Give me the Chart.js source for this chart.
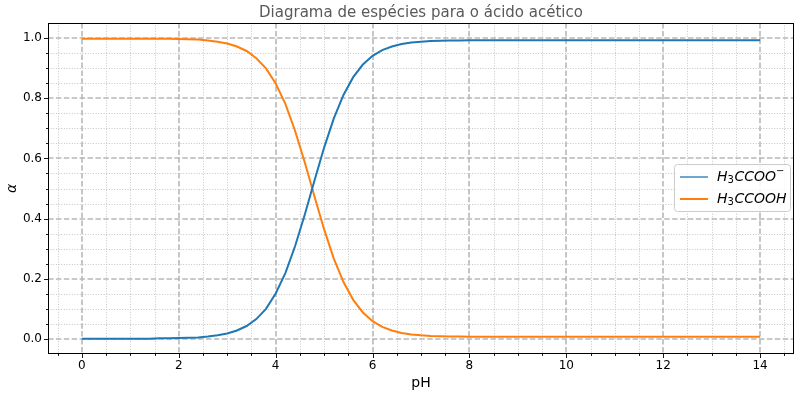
<!DOCTYPE html>
<html>
<head>
<meta charset="utf-8">
<script src="https://cdn.jsdelivr.net/npm/chart.js@4"></script>
<style>
  html, body { margin: 0; padding: 0; background: #fff; }
  #wrap { width: 800px; height: 396px; }
</style>
</head>
<body>
<div id="wrap"><canvas id="chart"></canvas></div>
<script>
// pH values, 0 to 14 in steps of 0.2
const ph = [];
for (let i = 0; i <= 70; i++) ph.push(+(i * 0.2).toFixed(1));

const acetate = [
    0.001, 0.001, 0.001, 0.001, 0.001, 0.001, 0.001, 0.001, 0.002, 0.002,
    0.003, 0.004, 0.005, 0.008, 0.012, 0.018, 0.028, 0.043, 0.066, 0.100,
    0.151, 0.219, 0.308, 0.413, 0.526, 0.636, 0.733, 0.811, 0.870, 0.912,
    0.941, 0.960, 0.972, 0.980, 0.985, 0.988, 0.990, 0.991, 0.992, 0.992,
    0.993, 0.993, 0.993, 0.993, 0.993, 0.993, 0.993, 0.993, 0.993, 0.993,
    0.993, 0.993, 0.993, 0.993, 0.993, 0.993, 0.993, 0.993, 0.993, 0.993,
    0.993, 0.993, 0.993, 0.993, 0.993, 0.993, 0.993, 0.993, 0.993, 0.993,
    0.993
];
const aceticAcid = [
    0.998, 0.998, 0.998, 0.998, 0.998, 0.998, 0.998, 0.998, 0.998, 0.998,
    0.997, 0.996, 0.995, 0.992, 0.988, 0.982, 0.972, 0.957, 0.933, 0.899,
    0.849, 0.781, 0.692, 0.587, 0.474, 0.364, 0.267, 0.189, 0.130, 0.088,
    0.059, 0.040, 0.028, 0.020, 0.015, 0.012, 0.010, 0.009, 0.008, 0.008,
    0.007, 0.007, 0.007, 0.007, 0.007, 0.007, 0.007, 0.007, 0.007, 0.007,
    0.007, 0.007, 0.007, 0.007, 0.007, 0.007, 0.007, 0.007, 0.007, 0.007,
    0.007, 0.007, 0.007, 0.007, 0.007, 0.007, 0.007, 0.007, 0.007, 0.007,
    0.007
];

const xTicks = [0, 2, 4, 6, 8, 10, 12, 14];
const yTicks = [0.0, 0.2, 0.4, 0.6, 0.8, 1.0];
const xMinor = [-0.5, 0.5, 1, 1.5, 2.5, 3, 3.5, 4.5, 5, 5.5, 6.5, 7, 7.5, 8.5, 9, 9.5,
    10.5, 11, 11.5, 12.5, 13, 13.5, 14.5];
const yMinor = [0.05, 0.1, 0.15, 0.25, 0.3, 0.35, 0.45, 0.5, 0.55, 0.65, 0.7, 0.75,
    0.85, 0.9, 0.95];

const titleText = 'Diagrama de espécies para o ácido acético';
const legendLabels = ['H₃CCOO⁻', 'H₃CCOOH'];
// same labels split into pieces for drawing: [text, kind]
const legendParts = [
    [['H', 'i'], ['3', 'sub'], ['CCOO', 'i'], ['−', 'sup']],
    [['H', 'i'], ['3', 'sub'], ['CCOOH', 'i']]
];

const blue = '#1f77b4';
const orange = '#ff7f0e';

function drawRich(ctx, parts, x, y) {
    parts.forEach(([t, kind]) => {
        let dy = 0;
        if (kind === 'i') ctx.font = 'italic 14px "DejaVu Sans"';
        if (kind === 'sub') { ctx.font = '10px "DejaVu Sans"'; dy = 3; }
        if (kind === 'sup') { ctx.font = '10px "DejaVu Sans"'; dy = -6; }
        ctx.fillText(t, x, y + dy);
        x += ctx.measureText(t).width + (kind === 'sub' ? 0.5 : 0);
    });
}

// grid, frame, tick marks, title and legend in matplotlib style
const mplLook = {
    id: 'mplLook',
    beforeDatasetsDraw(chart) {
        const { ctx, chartArea: a, scales: { x, y } } = chart;
        ctx.save();
        ctx.lineWidth = 1;
        ctx.strokeStyle = '#c4c4c4';
        ctx.setLineDash([1, 1.65]);
        xMinor.forEach(v => {
            const px = Math.round(x.getPixelForValue(v)) + 0.5;
            ctx.beginPath(); ctx.moveTo(px, a.top); ctx.lineTo(px, a.bottom); ctx.stroke();
        });
        yMinor.forEach(v => {
            const py = Math.round(y.getPixelForValue(v)) + 0.5;
            ctx.beginPath(); ctx.moveTo(a.left, py); ctx.lineTo(a.right, py); ctx.stroke();
        });
        ctx.lineWidth = 1.6;
        ctx.strokeStyle = '#b8b8b8';
        ctx.setLineDash([5.5, 2.4]);
        xTicks.forEach(v => {
            const px = Math.round(x.getPixelForValue(v));
            ctx.beginPath(); ctx.moveTo(px, a.top); ctx.lineTo(px, a.bottom); ctx.stroke();
        });
        yTicks.forEach(v => {
            const py = Math.round(y.getPixelForValue(v));
            ctx.beginPath(); ctx.moveTo(a.left, py); ctx.lineTo(a.right, py); ctx.stroke();
        });
        ctx.restore();
    },
    afterDraw(chart) {
        const { ctx, chartArea: a, scales: { x, y } } = chart;
        ctx.save();
        // frame
        ctx.strokeStyle = '#000';
        ctx.lineWidth = 1;
        ctx.strokeRect(Math.round(a.left) + 0.5, Math.round(a.top) + 0.5,
            Math.round(a.right - a.left) - 1, Math.round(a.bottom - a.top) - 1);
        // tick marks
        ctx.lineWidth = 0.9;
        const tick = (x1, y1, x2, y2) => { ctx.beginPath(); ctx.moveTo(x1, y1); ctx.lineTo(x2, y2); ctx.stroke(); };
        xTicks.forEach(v => { const px = Math.round(x.getPixelForValue(v)) + 0.5; tick(px, a.bottom, px, a.bottom + 4); });
        xMinor.forEach(v => { const px = Math.round(x.getPixelForValue(v)) + 0.5; tick(px, a.bottom, px, a.bottom + 2); });
        yTicks.forEach(v => { const py = Math.round(y.getPixelForValue(v)) + 0.5; tick(a.left, py, a.left - 4, py); });
        yMinor.forEach(v => { const py = Math.round(y.getPixelForValue(v)) + 0.5; tick(a.left, py, a.left - 2, py); });
        // title
        ctx.fillStyle = '#595959';
        ctx.font = '15px "DejaVu Sans"';
        ctx.textAlign = 'center';
        ctx.textBaseline = 'middle';
        ctx.fillText(titleText, (a.left + a.right) / 2, 13);
        // legend
        const bx = 674, by = 164, bw = 116, bh = 47;
        ctx.fillStyle = 'rgba(255,255,255,0.85)';
        ctx.strokeStyle = '#cccccc';
        ctx.lineWidth = 1;
        ctx.beginPath();
        ctx.roundRect(bx + 0.5, by + 0.5, bw, bh, 3);
        ctx.fill(); ctx.stroke();
        const widths = [1.3, 2];
        chart.data.datasets.forEach((ds, i) => {
            const ly = by + 13 + i * 22;
            ctx.strokeStyle = ds.borderColor;
            ctx.lineWidth = widths[i];
            ctx.beginPath(); ctx.moveTo(bx + 6, ly); ctx.lineTo(bx + 34, ly); ctx.stroke();
            ctx.fillStyle = '#000';
            ctx.textAlign = 'left';
            ctx.textBaseline = 'middle';
            drawRich(ctx, legendParts[i], bx + 43, ly);
        });
        ctx.restore();
    }
};

const ctx = document.getElementById('chart').getContext('2d');
new Chart(ctx, {
    type: 'line',
    data: {
        labels: ph,
        datasets: [{
            label: legendLabels[0],
            data: ph.map((v, i) => ({ x: v, y: acetate[i] })),
            borderColor: blue,
            borderWidth: 2,
            pointRadius: 0,
            tension: 0
        }, {
            label: legendLabels[1],
            data: ph.map((v, i) => ({ x: v, y: aceticAcid[i] })),
            borderColor: orange,
            borderWidth: 2,
            pointRadius: 0,
            tension: 0
        }]
    },
    options: {
        responsive: true,
        maintainAspectRatio: false,
        animation: false,
        layout: { padding: { top: 23, right: 6, left: 0, bottom: 0 } },
        plugins: {
            legend: { display: false },
            title: { display: false },
            tooltip: { enabled: false }
        },
        scales: {
            x: {
                type: 'linear',
                min: -0.7,
                max: 14.7,
                afterBuildTicks: s => { s.ticks = xTicks.map(v => ({ value: v })); },
                afterFit: s => { s.height = 42; },
                grid: { display: false, drawTicks: false },
                border: { display: false },
                ticks: {
                    color: '#000',
                    padding: 5,
                    maxRotation: 0,
                    font: { family: 'DejaVu Sans', size: 12 },
                    callback: v => String(v)
                },
                title: {
                    display: true,
                    text: 'pH',
                    color: '#000',
                    font: { family: 'DejaVu Sans', size: 14 },
                    padding: { top: 0, bottom: 4 }
                }
            },
            y: {
                min: -0.05,
                max: 1.05,
                afterBuildTicks: s => { s.ticks = yTicks.map(v => ({ value: v })); },
                afterFit: s => { s.width = 48; },
                grid: { display: false, drawTicks: false },
                border: { display: false },
                ticks: {
                    color: '#000',
                    padding: 6,
                    font: { family: 'DejaVu Sans', size: 12 },
                    callback: v => v.toFixed(1)
                },
                title: {
                    display: true,
                    text: 'α',
                    color: '#000',
                    font: { family: 'DejaVu Sans', size: 14, style: 'italic' },
                    padding: { top: 4, bottom: 0 }
                }
            }
        }
    },
    plugins: [mplLook]
});
</script>
</body>
</html>
